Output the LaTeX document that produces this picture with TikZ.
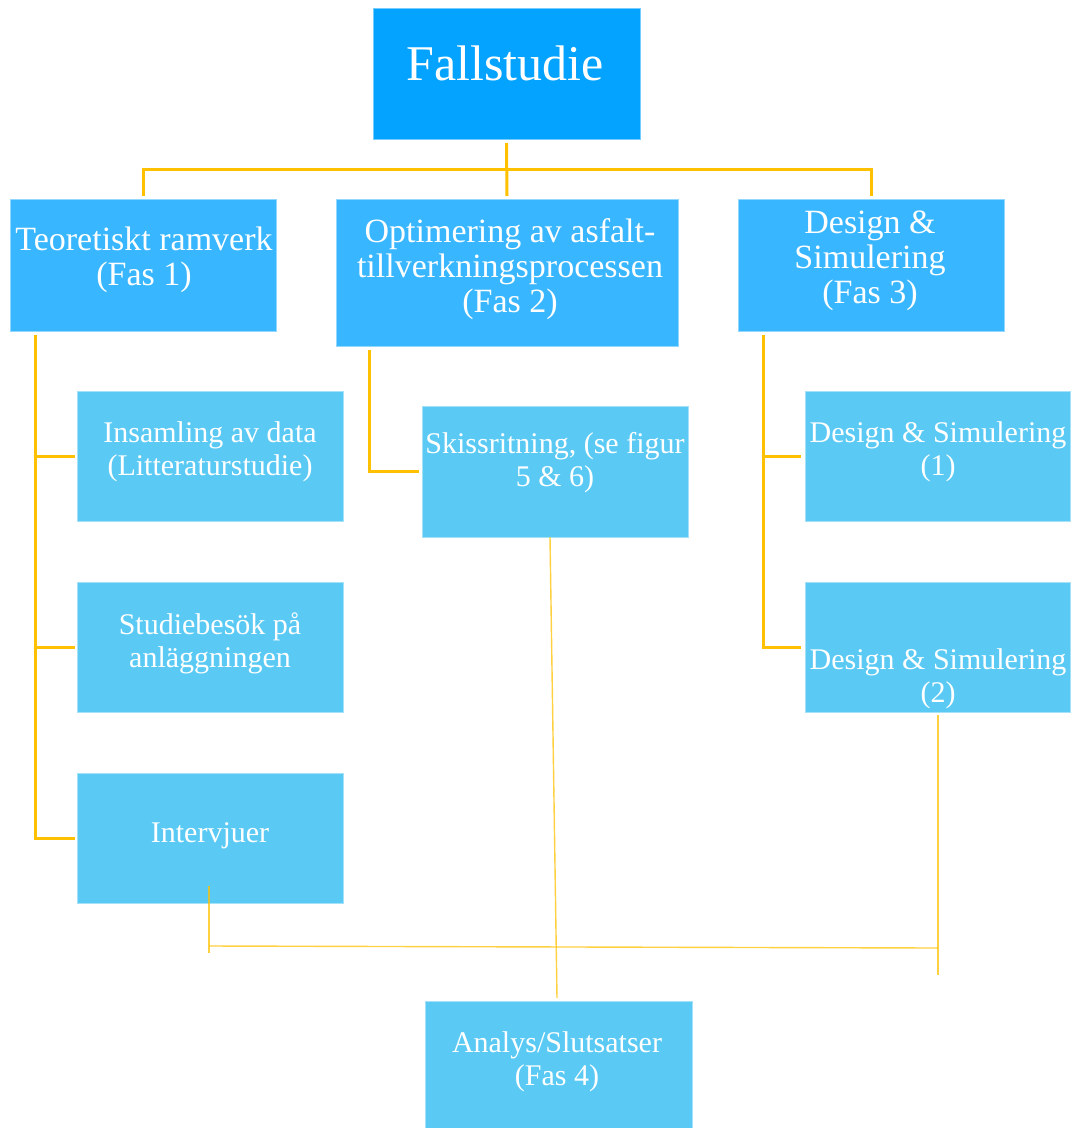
\documentclass[tikz,border=0pt]{standalone}
\usepackage{fontspec}
\setmainfont{Liberation Serif}
\definecolor{topblue}{HTML}{03A3FF}
\definecolor{midblue}{HTML}{38B6FF}
\definecolor{lowblue}{HTML}{5ACAF5}
\definecolor{gold}{HTML}{FFC000}
\tikzset{
  x=1pt, y=-1pt,
  boxbase/.style={rectangle, inner sep=0pt, outer sep=0pt, line width=0.8pt},
  boxtop/.style={boxbase, fill=topblue, draw=topblue!55!white},
  boxmid/.style={boxbase, fill=midblue, draw=midblue!55!white},
  boxlow/.style={boxbase, fill=lowblue, draw=lowblue!55!white},
  txttop/.style={text=white, inner sep=0pt, font=\fontsize{50}{54}\selectfont},
  txtmid/.style={text=white, inner sep=0pt, align=center, font=\fontsize{34}{35}\selectfont},
  txtlow/.style={text=white, inner sep=0pt, align=center, font=\fontsize{30}{33}\selectfont},
  conn/.style={draw=gold, line width=3pt},
  thinconn/.style={draw=gold, draw opacity=0.75, line width=1.4pt},
}
\begin{document}
\begin{tikzpicture}
\useasboundingbox (0,0) rectangle (1075,1128);
% boxes
\node[boxtop, minimum width=267pt, minimum height=131pt] (fall) at (506.5,73.5) {};
\node[boxmid, minimum width=266pt, minimum height=132pt] (teo) at (143,265) {};
\node[boxmid, minimum width=342pt, minimum height=147pt] (opt) at (507,272.5) {};
\node[boxmid, minimum width=266pt, minimum height=132pt] (des) at (871,265) {};
\node[boxlow, minimum width=266pt, minimum height=130pt] (ins) at (210,456) {};
\node[boxlow, minimum width=266pt, minimum height=130pt] (stu) at (210,647) {};
\node[boxlow, minimum width=266pt, minimum height=130pt] (int) at (210,838) {};
\node[boxlow, minimum width=266pt, minimum height=131pt] (ski) at (555,471.5) {};
\node[boxlow, minimum width=265pt, minimum height=130pt] (dsa) at (937.5,456) {};
\node[boxlow, minimum width=265pt, minimum height=130pt] (dsb) at (937.5,647) {};
\node[boxlow, minimum width=267pt, minimum height=130pt] (ana) at (558.5,1066) {};
% texts (base = baseline of last line)
\node[txttop, anchor=base] (tfall) at (505,80) {Fallstudie};
\node[txtmid, anchor=base] (tteo) at (144,285) {Teoretiskt ramverk\\(Fas 1)};
\node[txtmid, anchor=base] (topt) at (510,312) {Optimering av asfalt-\\tillverkningsprocessen\\(Fas 2)};
\node[txtmid, anchor=base] (tdes) at (870,303) {Design \&\\Simulering\\(Fas 3)};
\node[txtlow, anchor=base] (tins) at (210,475) {Insamling av data\\(Litteraturstudie)};
\node[txtlow, anchor=base] (tstu) at (210,667) {Studiebesök på\\anläggningen};
\node[txtlow, anchor=base] (tint) at (210,842) {Intervjuer};
\node[txtlow, anchor=base] (tski) at (555,486) {Skissritning, (se figur\\5 \& 6)};
\node[txtlow, anchor=base] (tdsa) at (938,475) {Design \& Simulering\\(1)};
\node[txtlow, anchor=base] (tdsb) at (938,702) {Design \& Simulering\\(2)};
\node[txtlow, anchor=base] (tana) at (557,1085) {Analys/Slutsatser\\(Fas 4)};
% top connectors
\coordinate (hub) at (507,169);
\draw[conn] ([yshift=-4pt]fall.south) -- ([yshift=3pt]opt.north);
\draw[conn] ([yshift=3pt]teo.north) |- (hub) -| ([yshift=3pt]des.north);
% left branch
\draw[conn] ([xshift=25pt,yshift=-4pt]teo.south west) |- ([xshift=-2pt]ins.west);
\draw[conn] ([xshift=25pt,yshift=-4pt]teo.south west) |- ([xshift=-2pt]stu.west);
\draw[conn] ([xshift=25pt,yshift=-4pt]teo.south west) |- ([xshift=-2pt]int.west);
% middle branch
\draw[conn] ([xshift=33pt,yshift=-4pt]opt.south west) |- ([xshift=-3pt]ski.west);
% right branch
\draw[conn] ([xshift=25pt,yshift=-4pt]des.south west) |- ([xshift=-4pt]dsa.west);
\draw[conn] ([xshift=25pt,yshift=-4pt]des.south west) |- ([xshift=-4pt]dsb.west);
% bottom thin connectors
\coordinate (bl) at (209,953);
\coordinate (bm) at (209,946);
\coordinate (br) at (938,948);
\coordinate (rb) at (938,975);
\draw[thinconn] ([xshift=-1pt,yshift=17pt]int.south) -- (bl);
\draw[thinconn] (bm) -- (br);
\draw[thinconn] ([xshift=0.5pt,yshift=-3pt]dsb.south) -- (rb);
\draw[thinconn] ([xshift=-5pt]ski.south) -- ([xshift=-1.5pt,yshift=3pt]ana.north);
\end{tikzpicture}
\end{document}
